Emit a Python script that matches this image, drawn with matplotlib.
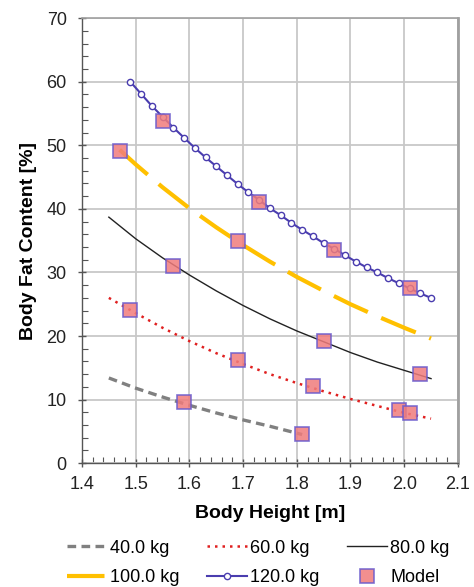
import numpy as np
import matplotlib.pyplot as plt
from matplotlib.ticker import MultipleLocator

plt.rcParams['font.family'] = ['Liberation Sans', 'DejaVu Sans']

# body height grid (m)
h_40 = [1.45, 1.50, 1.55, 1.60, 1.65, 1.70, 1.75, 1.81]
bf_40 = [13.4, 11.8, 10.4, 9.1, 7.9, 6.8, 5.8, 4.5]

h_std = [1.45, 1.50, 1.55, 1.60, 1.65, 1.70, 1.75, 1.80, 1.85, 1.90, 1.95, 2.00, 2.05]
bf_60 = [26.0, 23.6, 21.3, 19.2, 17.3, 15.6, 14.0, 12.6, 11.3, 10.1, 9.0, 7.9, 7.0]
bf_80 = [38.7, 35.3, 32.3, 29.6, 27.1, 24.8, 22.7, 20.8, 19.1, 17.4, 15.9, 14.6, 13.3]

h_100 = [1.47, 1.50, 1.55, 1.60, 1.65, 1.70, 1.75, 1.80, 1.85, 1.90, 1.95, 2.00, 2.05]
bf_100 = [49.3, 47.0, 43.4, 40.1, 37.1, 34.3, 31.7, 29.3, 27.1, 25.0, 23.1, 21.3, 19.6]

h_120 = [1.49, 1.51, 1.53, 1.55, 1.57, 1.59, 1.61, 1.63, 1.65, 1.67, 1.69, 1.71, 1.73,
         1.75, 1.77, 1.79, 1.81, 1.83, 1.85, 1.87, 1.89, 1.91, 1.93, 1.95, 1.97,
         1.99, 2.01, 2.03, 2.05]
bf_120 = [60.0, 58.1, 56.2, 54.5, 52.8, 51.2, 49.6, 48.1, 46.7, 45.3, 43.9, 42.6, 41.4,
          40.1, 39.0, 37.8, 36.7, 35.7, 34.6, 33.7, 32.7, 31.7, 30.8, 30.0, 29.1,
          28.3, 27.5, 26.7, 26.0]

# model points
model_h = [1.47, 1.55, 1.73, 1.87, 2.01, 1.57, 1.69, 1.49, 1.85, 2.03,
           1.59, 1.69, 1.81, 1.83, 1.99, 2.01]
model_bf = [49.1, 53.9, 41.1, 33.6, 27.6, 31.0, 35.0, 24.1, 19.2, 14.1,
            9.6, 16.2, 4.6, 12.2, 8.3, 7.9]

fig = plt.figure(figsize=(4.74, 5.87), dpi=100)
ax = fig.add_axes([0.173, 0.211, 0.793, 0.758])

l40, = ax.plot(h_40, bf_40, color='#808080', lw=2.4, dashes=(2.6, 1.6), label='40.0 kg')
l60, = ax.plot(h_std, bf_60, color='#E02020', lw=1.8, linestyle=(0, (1, 2)), label='60.0 kg')
l80, = ax.plot(h_std, bf_80, color='#222222', lw=1.0, label='80.0 kg')
l100, = ax.plot(h_100, bf_100, color='#FFC000', lw=3.0, dashes=(9, 3.5), label='100.0 kg')
l120, = ax.plot(h_120, bf_120, color='#4A3DAF', lw=1.5, marker='o', ms=4.5,
                mfc='white', mec='#4A3DAF', mew=1.0, label='120.0 kg')
lmod, = ax.plot(model_h, model_bf, ls='none', marker='s', ms=9.5, mfc='#F07C7C',
                mec='#6A5ACD', mew=1.2, alpha=0.85, label='Model', zorder=5)

ax.set_xlim(1.4, 2.1)
ax.set_ylim(0, 70)
ax.xaxis.set_major_locator(MultipleLocator(0.1))
ax.xaxis.set_minor_locator(MultipleLocator(0.02))
ax.yaxis.set_major_locator(MultipleLocator(10))
ax.yaxis.set_minor_locator(MultipleLocator(2))
ax.set_xticklabels([f'{v:.1f}' for v in ax.get_xticks()])
ax.grid(True, which='major', color='#C8C8C8', lw=1.3)
ax.set_axisbelow(True)

ax.tick_params(which='major', direction='inout', length=6, width=1, color='#555555',
               labelsize=13, labelcolor='#222222')
ax.tick_params(axis='x', which='major', pad=6)
ax.tick_params(axis='y', which='major', pad=8)
ax.tick_params(which='minor', direction='in', length=4, width=0.8, color='#555555')

for s in ['left', 'bottom']:
    ax.spines[s].set_color('#555555')
    ax.spines[s].set_linewidth(1.0)
ax.spines['top'].set_color('#A0A0A0')
ax.spines['top'].set_linewidth(1.2)
ax.spines['right'].set_color('#A0A0A0')
ax.spines['right'].set_linewidth(2.0)

ax.set_xlabel('Body Height [m]', fontsize=14, fontweight='bold', labelpad=9)
ax.set_ylabel('Body Fat Content [%]', fontsize=14, fontweight='bold', labelpad=7)

# legend: rows 40/60/80 and 100/120/Model
handles = [l40, l100, l60, l120, l80, lmod]
fig.legend(handles, [h.get_label() for h in handles], ncol=3, frameon=False,
           loc='center', bbox_to_anchor=(0.545, 0.041), fontsize=13,
           handlelength=2.2, handletextpad=0.2, columnspacing=1.5, labelspacing=0.7)

fig.savefig('out.png', dpi=100)
